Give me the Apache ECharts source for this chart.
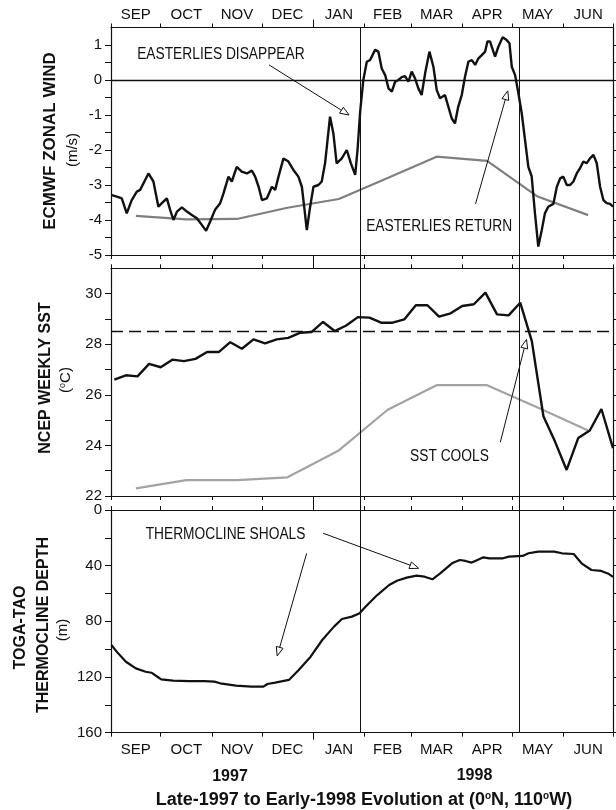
<!DOCTYPE html>
<html><head><meta charset="utf-8">
<script src="https://cdn.jsdelivr.net/npm/echarts@6/dist/echarts.min.js"></script>
<style>html,body{margin:0;padding:0;background:#fff}#c{width:616px;height:810px}</style>
</head><body><div id="c"></div>
<script>
// ---------- axis definitions (days since 1 Sep 1997) ----------
const monthNames = ['SEP','OCT','NOV','DEC','JAN','FEB','MAR','APR','MAY','JUN'];
const monthStartDays = [0,30,61,91,122,153,181,212,242,273,303];
const monthMidDays = [15,45.5,76,106.5,137.5,167,196.5,227,257.5,288];
const yearBoundaryDays = [122];
const eventDays = [150.4, 246.5];

const windLabelValues = [-5,-4,-3,-2,-1,0,1];
const windTickValues = [-5,-4.5,-4,-3.5,-3,-2.5,-2,-1.5,-1,-0.5,0,0.5,1];
const sstLabelValues = [22,24,26,28,30];
const sstTickValues = [22,23,24,25,26,27,28,29,30];
const depthLabelValues = [0,40,80,120,160];
const depthTickValues = [0,20,40,60,80,100,120,140,160];

// ---------- ECMWF zonal wind (daily, m/s) ----------
const windDays = [0.5,3.5,6.5,9.5,12.5,15.6,17.6,22.6,25.6,28.6,30.7,33.7,35.7,37.7,39.8,42.8,45.8,48.8,51.8,54.8,57.4,59.8,62.8,65.9,67.9,70.9,72.9,75.9,78.9,82.0,85.0,87.0,89.1,91.1,94.1,97.1,99.1,101.1,104.1,107.1,110.1,113.1,115.2,116.6,118.2,120.2,122.2,125.2,127.2,129.2,132.2,134.2,136.2,139.3,142.3,144.8,147.4,148.8,150.4,152.3,154.4,156.4,159.4,161.4,163.4,165.5,167.5,169.5,171.5,173.5,175.5,177.5,179.5,181.5,183.5,185.5,187.5,189.6,192.2,194.6,196.6,198.6,201.6,203.6,205.7,207.6,209.6,211.7,213.7,215.7,217.8,219.8,221.8,223.8,225.8,227.2,228.8,230.8,231.8,233.8,236.4,238.8,240.5,241.9,243.9,245.9,247.9,249.9,251.9,253.9,255.9,257.9,260.0,261.9,263.9,267.0,269.1,271.1,273.0,275.1,277.1,279.1,281.1,283.1,285.1,287.1,289.1,291.2,293.2,295.2,297.2,299.2,301.2,303];
const windValues = [-3.29,-3.33,-3.38,-3.81,-3.43,-3.19,-3.14,-2.67,-2.9,-3.62,-3.52,-3.38,-3.71,-4.0,-3.76,-3.64,-3.76,-3.86,-3.95,-4.14,-4.31,-4.05,-3.71,-3.52,-3.24,-2.76,-2.9,-2.48,-2.62,-2.67,-2.59,-2.76,-3.05,-3.43,-3.38,-3.05,-3.14,-2.76,-2.24,-2.33,-2.57,-2.76,-3.05,-3.62,-4.29,-3.62,-3.05,-3.0,-2.9,-2.38,-1.05,-1.52,-2.38,-2.24,-2.0,-2.38,-2.71,-2.0,-0.9,0,0.52,0.57,0.86,0.81,0.33,0.14,-0.24,-0.33,-0.05,0,0.08,0.11,-0.05,0.24,0.05,-0.24,-0.43,0.19,0.81,0.38,-0.29,-0.52,-0.43,-0.76,-1.1,-1.24,-0.76,-0.43,0.1,0.52,0.57,0.43,0.62,0.71,0.81,1.1,1.1,0.81,0.67,0.95,1.22,1.14,1.05,0.38,0.14,-0.38,-0.95,-1.71,-2.48,-2.75,-3.81,-4.76,-4.29,-3.81,-3.62,-3.54,-3.05,-2.81,-2.76,-3.0,-3.0,-2.9,-2.67,-2.52,-2.33,-2.38,-2.24,-2.14,-2.38,-3.05,-3.43,-3.52,-3.54,-3.62];
const windClimValues = [-3.88,-3.98,-3.97,-3.65,-3.4,-2.8,-2.19,-2.31,-3.33,-3.86];

// ---------- NCEP weekly SST (°C) ----------
const sstDays = [2,9,16,23,30,37,44,51,58,65,72,79,86,93,100,107,114,121,128,135,142,149,156,163,170,177,184,191,198,205,212,219,226,233,240,247,254,261,268,275,282,289,296,303];
const sstValues = [26.6,26.77,26.73,27.22,27.09,27.39,27.33,27.42,27.69,27.69,28.08,27.82,28.19,28.03,28.19,28.25,28.45,28.48,28.88,28.52,28.74,29.07,29.05,28.85,28.85,28.98,29.54,29.54,29.09,29.22,29.51,29.58,30.04,29.18,29.14,29.64,28.12,25.15,24.15,23.03,24.29,24.59,25.44,23.89];
const sstClimValues = [22.3,22.63,22.63,22.74,23.8,25.41,26.38,26.38,25.5,24.59];
const sstThreshold = [28.5];

// ---------- TOGA-TAO thermocline depth (m) ----------
const depthDays = [0.2,4.3,9.0,15.0,20.9,24.4,28.0,30.3,37.4,47.0,56.4,62.4,65.9,75.4,84.8,92.0,94.4,99.1,107.4,113.3,120.5,127.5,134.6,139.4,145.4,150.1,153.6,160.7,167.9,172.6,178.5,184.4,189.2,194.0,198.7,205.8,210.5,214.0,217.7,221.2,224.8,228.3,236.6,240.2,248.5,252.0,257.9,267.5,272.2,279.3,284.0,290.0,295.9,300.6,303];
const depthValues = [97,103,109,113.8,116.2,116.9,119.8,121.7,122.6,122.9,122.9,123.3,124.5,126.2,126.9,126.9,125,124,122.1,115,105.4,93.4,83.8,78.3,76.6,74.2,69.5,61.1,53.9,50.8,48.6,47.2,47.9,49.8,45.5,38.3,35.9,36.6,37.8,35.9,34,34.7,34.7,33.5,33,31.1,29.9,29.9,31.1,31.6,38.3,43.1,43.8,46,48];

// ---------- annotations (data coordinates) ----------
const noteTexts = [
  {panel:0, text:'EASTERLIES DISAPPEAR', at:[15.8,0.74]},
  {panel:0, text:'EASTERLIES RETURN', at:[154.0,-4.19]},
  {panel:1, text:'SST COOLS', at:[180.5,23.56]},
  {panel:2, text:'THERMOCLINE SHOALS', at:[20.9,17.96]}
];
const noteArrows = [
  {panel:0, from:[95.4,0.43], to:[143.7,-1.0]},
  {panel:0, from:[220,-3.54], to:[239.5,-0.31]},
  {panel:1, from:[235,24.13], to:[250.8,28.19]},
  {panel:2, from:[128,16.7], to:[185.7,41.9]},
  {panel:2, from:[118.1,31.1], to:[100.3,104.9]}
];

const zip = (a,b) => a.map((v,i) => [v, b[i]]);

const FONT = "'Liberation Sans', Arial, sans-serif";
const BLACK = '#111';

const grids = [
  {left:111, right:3, top:27.5, height:227.5},
  {left:111, right:3, top:268.3, height:227.7},
  {left:111, right:3, top:510, height:222.7},
  {left:111, right:3, top:27.5, height:705.2}
].map(g => Object.assign({outerBoundsMode:'none', containLabel:false}, g));

function xAx(grid, pos, opts) {
  return Object.assign({
    type:'value', gridIndex:grid, position:pos, min:0, max:303,
    axisLine:{show:true, onZero:false, lineStyle:{color:BLACK, width:1.2}},
    axisTick:{show:true, inside:false, length:4, customValues:monthStartDays, lineStyle:{color:BLACK, width:1}},
    axisLabel:{show:false},
    splitLine:{show:false}
  }, opts || {});
}
const monthLabel = (margin) => ({
  show:true, customValues:monthMidDays, margin:margin,
  formatter:(v) => monthNames[monthMidDays.indexOf(v)],
  fontFamily:FONT, fontSize:15, color:BLACK
});
const xAxes = [
  xAx(0,'bottom'),
  xAx(0,'top',{axisLabel:monthLabel(5)}),
  xAx(1,'bottom'),
  xAx(1,'top'),
  xAx(2,'bottom',{axisLabel:monthLabel(10)}),
  xAx(2,'top'),
  xAx(3,'bottom',{show:false}),
  xAx(0,'bottom',{axisLine:{show:false,onZero:false}, axisTick:{show:true,length:13,customValues:yearBoundaryDays,lineStyle:{color:BLACK,width:1}}}),
  xAx(1,'bottom',{axisLine:{show:false,onZero:false}, axisTick:{show:true,length:14,customValues:yearBoundaryDays,lineStyle:{color:BLACK,width:1}}}),
  xAx(0,'top',{axisLine:{show:false,onZero:false}, axisTick:{show:true,length:8,customValues:yearBoundaryDays,lineStyle:{color:BLACK,width:1}}}),
  xAx(2,'bottom',{axisLine:{show:false,onZero:false}, axisTick:{show:true,length:7,customValues:yearBoundaryDays,lineStyle:{color:BLACK,width:1}}})
];

function yAx(grid, pos, min, max, ticks, labels, inverse) {
  return {
    type:'value', gridIndex:grid, position:pos, min:min, max:max, inverse:!!inverse,
    axisLine:{show:true, onZero:false, lineStyle:{color:BLACK, width:1.2}},
    axisTick:{show:true, inside:false, length: pos==='left' ? 6 : 3, customValues:ticks, lineStyle:{color:BLACK,width:1}},
    axisLabel: labels ? {show:true, customValues:labels, margin:9, fontFamily:FONT, fontSize:15, color:BLACK} : {show:false},
    splitLine:{show:false}
  };
}
const yAxes = [
  yAx(0,'left',-5,1.5,windTickValues,windLabelValues),
  yAx(0,'right',-5,1.5,windTickValues,null),
  yAx(1,'left',22,31,sstTickValues,sstLabelValues),
  yAx(1,'right',22,31,sstTickValues,null),
  yAx(2,'left',0,160,depthTickValues,depthLabelValues,true),
  yAx(2,'right',0,160,depthTickValues,null,true),
  {type:'value', gridIndex:3, min:0, max:1, show:false}
];
const panelAxes = [{x:0,y:0},{x:2,y:2},{x:4,y:4}];

function arrowRender(params, api) {
  const a = api.coord([api.value(0), api.value(1)]);
  const b = api.coord([api.value(2), api.value(3)]);
  const dx = b[0]-a[0], dy = b[1]-a[1], len = Math.hypot(dx,dy);
  const ux = dx/len, uy = dy/len, L = 9, W = 3.5;
  const bx = b[0]-ux*L, by = b[1]-uy*L;
  return {type:'group', children:[
    {type:'line', shape:{x1:a[0],y1:a[1],x2:bx,y2:by}, style:{stroke:BLACK, lineWidth:1}},
    {type:'polygon', shape:{points:[[b[0],b[1]],[bx-uy*W,by+ux*W],[bx+uy*W,by-ux*W]]}, style:{fill:'#fff', stroke:BLACK, lineWidth:1}}
  ]};
}

const series = [];
const lineBase = (p, data, color, width, z) => ({
  type:'line', xAxisIndex:panelAxes[p].x, yAxisIndex:panelAxes[p].y, data:data,
  showSymbol:false, symbol:'none', animation:false, silent:true, z:z||3,
  lineStyle:{color:color, width:width}
});
series.push(lineBase(0, zip(monthMidDays, windClimValues), '#7f7f7f', 2.2, 2));
series.push(Object.assign(lineBase(0, zip(windDays, windValues), BLACK, 2.4, 4), {
  markLine:{silent:true, symbol:['none','none'], label:{show:false}, animation:false,
    lineStyle:{color:BLACK, width:1.4, type:'solid'}, data:[{yAxis:0}]}
}));
series.push(lineBase(1, zip(monthMidDays, sstClimValues), '#a3a3a3', 2.2, 2));
series.push(Object.assign(lineBase(1, zip(sstDays, sstValues), BLACK, 2.4, 4), {
  markLine:{silent:true, symbol:['none','none'], label:{show:false}, animation:false,
    lineStyle:{color:BLACK, width:1.4, type:[12,6]}, data:sstThreshold.map(v => ({yAxis:v}))}
}));
series.push(lineBase(2, zip(depthDays, depthValues), BLACK, 2.2, 4));
series.push({
  type:'line', xAxisIndex:6, yAxisIndex:6, data:[], animation:false, silent:true,
  markLine:{silent:true, symbol:['none','none'], label:{show:false}, animation:false,
    lineStyle:{color:BLACK, width:1, type:'solid'}, data:eventDays.map(d => ({xAxis:d}))}
});
[0,1,2].forEach(p => {
  const arrows = noteArrows.filter(a => a.panel === p);
  series.push({
    type:'custom', xAxisIndex:panelAxes[p].x, yAxisIndex:panelAxes[p].y, clip:false, silent:true, animation:false, z:6,
    encode:{x:[0,2], y:[1,3]},
    data:arrows.map(a => [a.from[0], a.from[1], a.to[0], a.to[1]]),
    renderItem:arrowRender
  });
  const texts = noteTexts.filter(t => t.panel === p);
  series.push({
    type:'custom', xAxisIndex:panelAxes[p].x, yAxisIndex:panelAxes[p].y, clip:false, silent:true, animation:false, z:6,
    encode:{x:0, y:1},
    data:texts.map(t => [t.at[0], t.at[1]]),
    renderItem:(params, api) => {
      const c = api.coord([api.value(0), api.value(1)]);
      return {type:'text', x:c[0], y:c[1], scaleX:0.86, scaleY:1, style:{text:texts[params.dataIndex].text, fill:BLACK,
        font:'16px ' + FONT, align:'left', verticalAlign:'middle'}};
    }
  });
});

const rot = Math.PI/2;
const vText = (x, y, text, font, rich) => ({type:'text', x:x, y:y, rotation:rot, silent:true,
  style:{text:text, font:font, fill:BLACK, align:'center', verticalAlign:'middle', rich:rich}});
const supRich = {s:{fontSize:10, fontFamily:FONT, fontWeight:'bold', verticalAlign:'top', lineHeight:10, fill:BLACK}};
const supRichN = {s:{fontSize:9, fontFamily:FONT, verticalAlign:'top', lineHeight:9, fill:BLACK}};

const graphic = [
  vText(50.5, 141, 'ECMWF ZONAL WIND', 'bold 17px ' + FONT),
  vText(72.5, 150, '(m/s)', '15px ' + FONT),
  vText(46, 378, 'NCEP WEEKLY SST', 'bold 16px ' + FONT),
  vText(66, 380, '({s|o}C)', '15px ' + FONT, supRichN),
  vText(20.6, 627.5, 'TOGA-TAO', 'bold 16px ' + FONT),
  vText(44, 625, 'THERMOCLINE DEPTH', 'bold 16px ' + FONT),
  vText(63, 630, '(m)', '15px ' + FONT),
  {type:'text', x:230, y:776.5, silent:true, style:{text:'1997', font:'bold 16px ' + FONT, fill:BLACK, align:'center', verticalAlign:'middle'}},
  {type:'text', x:474.5, y:775.5, silent:true, style:{text:'1998', font:'bold 16px ' + FONT, fill:BLACK, align:'center', verticalAlign:'middle'}},
  {type:'text', x:364, y:800, silent:true, style:{text:'Late-1997 to Early-1998 Evolution at (0{s|o}N, 110{s|o}W)', font:'bold 18px ' + FONT, fill:BLACK, align:'center', verticalAlign:'middle', rich:supRich}}
];

const chart = echarts.init(document.getElementById('c'), null, {renderer:'canvas'});
chart.setOption({
  animation:false,
  backgroundColor:'#fff',
  grid:grids,
  xAxis:xAxes,
  yAxis:yAxes,
  series:series,
  graphic:graphic
});
</script>
</body></html>
